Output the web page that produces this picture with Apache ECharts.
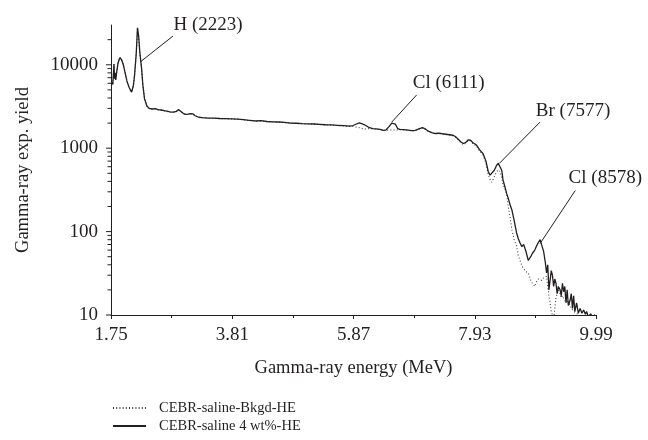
<!DOCTYPE html>
<html>
<head>
<meta charset="utf-8">
<script src="https://cdn.jsdelivr.net/npm/echarts@6/dist/echarts.min.js"></script>
<style>html,body{margin:0;padding:0;background:#fff;}#c{width:648px;height:440px;}</style>
</head>
<body>
<div id="c"></div>
<script>
// ---- data ----
const energy = [1.76,1.78,1.79,1.80,1.81,1.82,1.83,1.85,1.87,1.90,1.93,1.96,1.99,2.02,2.06,2.10,2.13,2.15,2.18,2.20,2.22,2.24,2.27,2.29,2.32,2.36,2.40,2.45,2.50,2.55,2.60,2.65,2.70,2.75,2.80,2.85,2.90,2.94,2.98,3.02,3.06,3.10,3.14,3.18,3.24,3.30,3.40,3.50,3.60,3.70,3.80,3.90,4.00,4.10,4.20,4.30,4.40,4.50,4.60,4.70,4.80,4.90,5.00,5.10,5.20,5.30,5.40,5.50,5.60,5.70,5.80,5.86,5.92,5.97,6.02,6.08,6.14,6.20,6.26,6.32,6.38,6.42,6.47,6.52,6.55,6.58,6.62,6.66,6.72,6.80,6.86,6.92,6.98,7.04,7.08,7.14,7.20,7.26,7.32,7.38,7.44,7.50,7.56,7.60,7.65,7.70,7.74,7.78,7.82,7.86,7.90,7.96,8.01,8.07,8.12,8.16,8.19,8.22,8.26,8.30,8.33,8.36,8.39,8.41,8.44,8.47,8.50,8.53,8.56,8.60,8.64,8.67,8.70,8.73,8.76,8.80,8.84,8.88,8.91,8.95,8.98,9.01,9.04,9.07,9.10,9.13,9.15,9.17,9.19,9.21,9.23,9.25,9.27,9.29,9.31,9.33,9.35,9.38,9.40,9.42,9.44,9.46,9.48,9.50,9.52,9.55,9.57,9.59,9.61,9.63,9.66,9.69,9.72,9.75,9.78,9.81,9.83,9.86,9.90,9.94,9.97];
const saline = [6200,5800,7500,10200,6800,8000,6600,8500,10500,12200,11500,10000,8000,6400,5300,4700,5600,7500,14000,27800,22000,14000,9000,5800,3900,3200,3000,2950,2980,2900,2870,2820,2780,2720,2700,2740,2900,2750,2600,2550,2560,2600,2580,2450,2350,2330,2300,2290,2270,2260,2250,2230,2200,2160,2120,2140,2090,2070,2060,2040,2000,1990,1970,1960,1950,1930,1910,1900,1880,1860,1840,1870,1950,2010,1960,1870,1760,1720,1700,1680,1640,1650,1800,2000,2060,1950,1720,1680,1670,1650,1620,1640,1700,1760,1720,1600,1540,1500,1520,1490,1470,1450,1430,1380,1280,1180,1140,1180,1260,1250,1160,1090,960,865,700,522,475,464,540,620,660,668,540,417,350,289,250,210,183,135,97,82,73,66,70,58,45,50,55,60,67,74,80,68,58,42,32,40,20,19,34,30,22,27,24,18,22,20,17,24,19,22,14,20,13,15,18,12,17,11,14,10.5,12,10.5,11.5,10.2,11,9.5,10.3,9.2,10.1];
const bkgd = [6200,5800,7500,10200,6800,8000,6600,8500,10500,12200,11500,10000,8000,6400,5300,4700,5600,7500,14000,27500,21500,13800,8900,5800,3900,3200,2980,2930,2960,2880,2860,2800,2770,2700,2690,2720,2880,2740,2600,2540,2550,2580,2570,2440,2340,2320,2290,2280,2260,2250,2240,2220,2190,2150,2110,2120,2080,2060,2050,2030,1990,1980,1960,1950,1940,1920,1900,1890,1870,1850,1830,1820,1790,1760,1720,1700,1720,1700,1690,1670,1640,1640,1650,1660,1650,1650,1660,1670,1660,1640,1610,1630,1690,1740,1700,1590,1530,1490,1500,1480,1460,1440,1410,1360,1260,1150,1100,1150,1230,1220,1130,1060,930,830,660,480,420,390,450,520,550,520,440,370,330,290,200,150,106,80,67,52,45,39,36,33,32,26,24,22,25,27,27,26,28,29,29,22,17,14,11,10,9,12,16,18,20,18,16,17,16,15,14,15,15,13,12,12,11,11,10.5,10,9.5,9,8.5,8,8,7.5,7,7,7];
const xTickLabels = ['1.75','3.81','5.87','7.93','9.99'];
const yMajorTicks = [10,100,1000,10000];
const yMinorTicks = [20,30,40,50,60,70,80,90,200,300,400,500,600,700,800,900,2000,3000,4000,5000,6000,7000,8000,9000,20000];
const seriesNames = ['CEBR-saline-Bkgd-HE','CEBR-saline 4 wt%-HE'];
// annotations: leader line from peak [E, yield] to end [E, yield]
const annoText = ['H (2223)','Cl (6111)','Br (7577)','Cl (8578)'];
const annoFrom = [[2.26,11000],[6.52,2055],[8.35,660],[9.04,72]];
const annoTo = [[2.803,22100],[6.944,4360],[9.039,2055],[9.638,311]];

const INK = '#231f20';
const FONT = 'Liberation Serif';
const chart = echarts.init(document.getElementById('c'), null, {renderer:'canvas'});
const pairs = (xs, ys) => xs.map((x,i)=>[x, ys[i]]);

chart.setOption({
  animation:false,
  backgroundColor:'#fff',
  grid:{left:111,right:52,top:25,bottom:125},
  legend:{
    data:seriesNames,
    orient:'vertical', left:112, top:400, padding:0, itemGap:2,
    itemWidth:33, itemHeight:12,
    itemStyle:{opacity:0},
    textStyle:{fontFamily:FONT,fontSize:14.5,color:INK,padding:[0,0,0,8],lineHeight:16}
  },
  xAxis:{
    type:'value', min:1.75, max:9.99, interval:2.06,
    name:'Gamma-ray energy (MeV)', nameLocation:'middle', nameGap:44,
    nameTextStyle:{fontFamily:FONT,fontSize:18.5,color:INK},
    axisLine:{lineStyle:{color:INK,width:1}},
    axisTick:{length:4,lineStyle:{color:INK}},
    minorTick:{show:true,splitNumber:2,length:3,lineStyle:{color:INK}},
    splitLine:{show:false},
    axisLabel:{margin:11,fontFamily:FONT,fontSize:19,color:INK,
      formatter:(v)=>{const i=Math.round((v-1.75)/2.06);return xTickLabels[i]||'';}}
  },
  yAxis:{
    type:'log', logBase:10, min:10, max:30000,
    name:'Gamma-ray exp. yield', nameLocation:'middle', nameGap:78,
    nameTextStyle:{fontFamily:FONT,fontSize:18.5,color:INK},
    axisLine:{show:true,lineStyle:{color:INK,width:1}},
    axisTick:{show:false},
    splitLine:{show:false},
    axisLabel:{margin:13,fontFamily:FONT,fontSize:19,color:INK,showMaxLabel:false,
      formatter:(v)=> (v>=9.99 && v<=10001 && Math.abs(Math.log10(v)-Math.round(Math.log10(v)))<1e-6) ? String(Math.round(v)) : ''}
  },
  series:[
    {
      name:seriesNames[0], type:'line', data:pairs(energy,bkgd), symbol:'none',
      lineStyle:{color:'#444',width:1.1,type:[1,2.2]}, itemStyle:{color:'#444'}, z:2
    },
    {
      name:seriesNames[1], type:'line', data:pairs(energy,saline), symbol:'none',
      lineStyle:{color:INK,width:1.3}, itemStyle:{color:INK}, z:3,
      markLine:{
        silent:true, symbol:['none','none'], animation:false,
        lineStyle:{color:INK,width:1,type:'solid'}, label:{show:false},
        data: annoFrom.map((f,i)=>[{coord:f},{coord:annoTo[i]}])
      },
      markPoint:{
        silent:true, symbol:'circle', symbolSize:0, animation:false,
        label:{show:true,position:'inside',fontFamily:FONT,fontSize:19,color:INK,
               align:'center',verticalAlign:'middle'},
        data: annoTo.map((t,i)=>({coord:t, value:annoText[i],
               label:{formatter:annoText[i], offset:[[35,-11],[32,-12],[33,-11],[30,-12]][i]}}))
      }
    },
    {
      name:'yMinorTicks', type:'custom', silent:true, z:5,
      data: yMinorTicks.map(v=>[1.75, v]),
      encode:{x:0,y:1},
      renderItem:(params, api)=>{
        const p = api.coord([1.75, api.value(1)]);
        return {type:'line', shape:{x1:p[0]-3.5,y1:p[1],x2:p[0],y2:p[1]}, style:{stroke:INK,lineWidth:1}};
      }
    },
    {
      name:'yMajorTicks', type:'custom', silent:true, z:5,
      data: yMajorTicks.map(v=>[1.75, v]),
      encode:{x:0,y:1},
      renderItem:(params, api)=>{
        const p = api.coord([1.75, api.value(1)]);
        return {type:'line', shape:{x1:p[0]-5,y1:p[1],x2:p[0]+1,y2:p[1]}, style:{stroke:INK,lineWidth:1}};
      }
    }
  ]
});
</script>
</body>
</html>
